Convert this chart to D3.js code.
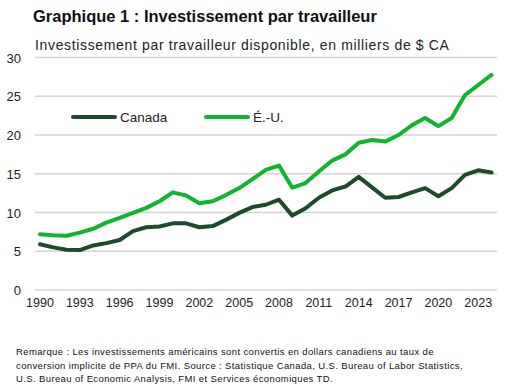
<!DOCTYPE html>
<html lang="fr">
<head>
<meta charset="utf-8">
<title>Graphique 1</title>
<script src="https://cdn.jsdelivr.net/npm/d3@7"></script>
<style>
  body { margin: 0; background: #fff; }
  svg { display: block; font-family: 'Liberation Sans', Arial, sans-serif; }
</style>
</head>
<body>
<script>
// data
var years = d3.range(1990, 2025);
var canada = [5.9, 5.5, 5.2, 5.15, 5.75, 6.05, 6.45, 7.6, 8.1, 8.2, 8.6, 8.6, 8.1, 8.25, 9.05, 9.95, 10.7, 11.0, 11.65, 9.6, 10.55, 11.9, 12.85, 13.35, 14.6, 13.25, 11.9, 12.0, 12.6, 13.15, 12.1, 13.15, 14.85, 15.45, 15.15];
var usa = [7.2, 7.05, 7.0, 7.4, 7.9, 8.7, 9.3, 9.95, 10.6, 11.45, 12.6, 12.2, 11.2, 11.45, 12.25, 13.15, 14.3, 15.5, 16.05, 13.2, 13.8, 15.3, 16.7, 17.5, 19.0, 19.35, 19.15, 20.0, 21.25, 22.2, 21.15, 22.2, 25.15, 26.45, 27.75];
var yTicks = [0, 5, 10, 15, 20, 25, 30];
var xTicks = [1990, 1993, 1996, 1999, 2002, 2005, 2008, 2011, 2014, 2017, 2020, 2023];
var seriesNames = ["Canada", "É.-U."];
var seriesColors = ["#1c4a2a", "#10b52e"];

var w = 519, h = 386;

var svg = d3.select("body").append("svg")
    .attr("width", w)
    .attr("height", h);

// scales
var x = d3.scaleLinear().domain([1990, 2024]).range([40, 491.5]);
var y = d3.scaleLinear().domain([0, 30]).range([290, 57.5]);

// titles
svg.append("text")
    .attr("x", 33).attr("y", 22)
    .attr("font-size", 16.5).attr("font-weight", "bold")
    .attr("fill", "#111")
    .text("Graphique 1 : Investissement par travailleur");

svg.append("text")
    .attr("x", 35).attr("y", 50)
    .attr("font-size", 14)
    .attr("letter-spacing", 0.65)
    .attr("fill", "#222")
    .text("Investissement par travailleur disponible, en milliers de $ CA");

// grid lines
svg.selectAll("line.grid")
    .data(yTicks)
    .enter().append("line")
    .attr("class", "grid")
    .attr("x1", 35).attr("x2", 497)
    .attr("y1", function(d) { return y(d); })
    .attr("y2", function(d) { return y(d); })
    .attr("stroke", "#d4d4d4")
    .attr("stroke-width", 1.5);

// y labels
svg.selectAll("text.ylab")
    .data(yTicks)
    .enter().append("text")
    .attr("class", "ylab")
    .attr("x", 21)
    .attr("y", function(d) { return y(d) + 5; })
    .attr("text-anchor", "end")
    .attr("font-size", 13)
    .attr("fill", "#222")
    .text(function(d) { return d; });

// x labels
svg.selectAll("text.xlab")
    .data(xTicks)
    .enter().append("text")
    .attr("class", "xlab")
    .attr("x", function(d) { return x(d); })
    .attr("y", 307)
    .attr("text-anchor", "middle")
    .attr("font-size", 12.5)
    .attr("fill", "#222")
    .text(function(d) { return d; });

// lines
var line = d3.line()
    .x(function(d, i) { return x(years[i]); })
    .y(function(d) { return y(d); });

[canada, usa].forEach(function(s, k) {
    svg.append("path")
        .datum(s)
        .attr("d", line)
        .attr("fill", "none")
        .attr("stroke", seriesColors[k])
        .attr("stroke-width", 4)
        .attr("stroke-linejoin", "round")
        .attr("stroke-linecap", "round");
});

// legend
var legX = [73, 206];
seriesNames.forEach(function(n, k) {
    svg.append("line")
        .attr("x1", legX[k]).attr("x2", legX[k] + 42)
        .attr("y1", 117).attr("y2", 117)
        .attr("stroke", seriesColors[k])
        .attr("stroke-width", 4)
        .attr("stroke-linecap", "round");
    svg.append("text")
        .attr("x", legX[k] + 47).attr("y", 122)
        .attr("font-size", 13.5)
        .attr("fill", "#222")
        .text(n);
});

// note
var notes = [
    "Remarque : Les investissements américains sont convertis en dollars canadiens au taux de",
    "conversion implicite de PPA du FMI. Source : Statistique Canada, U.S. Bureau of Labor Statistics,",
    "U.S. Bureau of Economic Analysis, FMI et Services économiques TD."
];
svg.selectAll("text.note")
    .data(notes)
    .enter().append("text")
    .attr("class", "note")
    .attr("x", 16)
    .attr("y", function(d, i) { return 355 + i * 13.5; })
    .attr("font-size", 9.5)
    .attr("letter-spacing", 0.38)
    .attr("fill", "#111")
    .text(function(d) { return d; });
</script>
</body>
</html>
